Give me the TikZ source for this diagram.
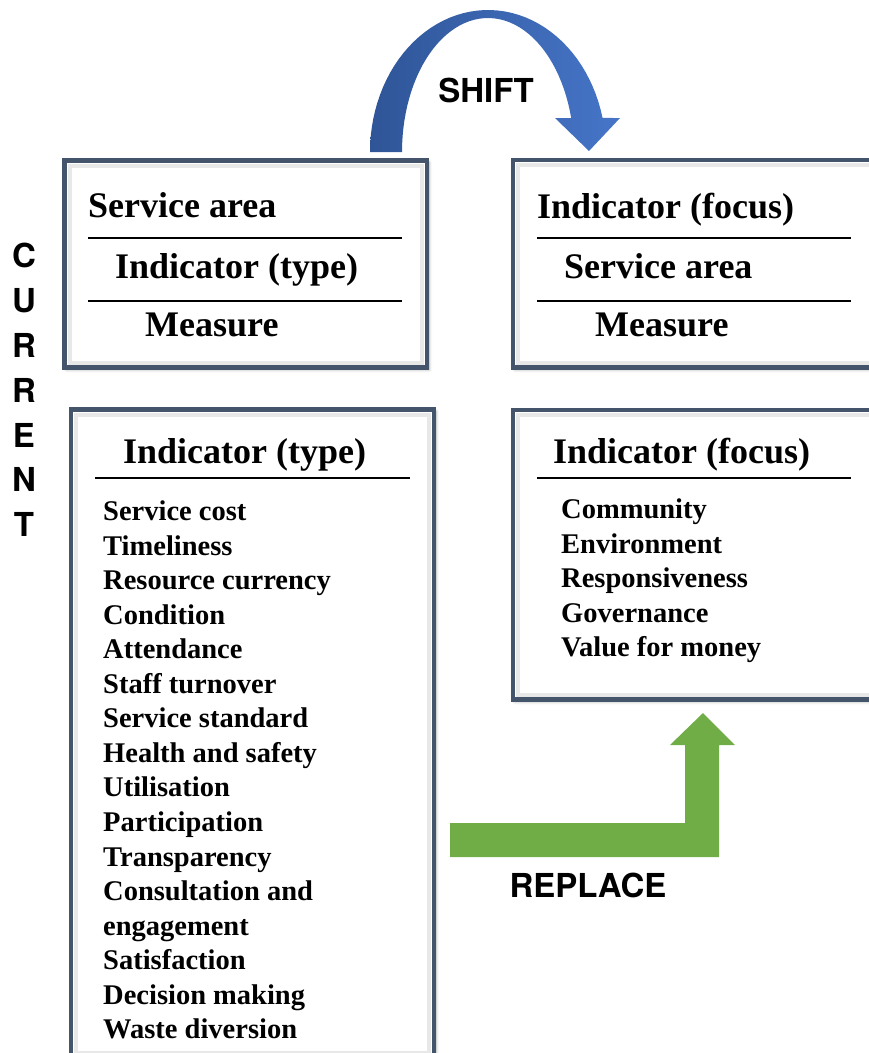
\documentclass[tikz,border=0pt]{standalone}
\usepackage{fontspec}
\setmainfont{Liberation Serif}
\setsansfont{TeX Gyre Heros}
\usetikzlibrary{shadows.blur}

\definecolor{frameblue}{RGB}{68,84,106}
\definecolor{shiftdark}{RGB}{47,85,151}
\definecolor{shiftlight}{RGB}{70,117,200}
\definecolor{replacegreen}{RGB}{112,173,71}

\begin{document}
\begin{tikzpicture}[x=1pt,y=-1pt,
	frame/.style={draw=frameblue,line width=4.5pt,fill=white,
		blur shadow={shadow xshift=2pt,shadow yshift=-2pt,shadow blur radius=3pt,shadow opacity=35}},
	glow/.style={draw=black!9,line width=4pt},
	rule/.style={line width=1.5pt},
	head/.style={inner sep=0pt,anchor=base west,font=\fontsize{36}{40}\selectfont\bfseries},
	entry/.style={inner sep=0pt,anchor=base west,font=\fontsize{28.5}{34.5}\selectfont\bfseries},
	caps/.style={inner sep=0pt,anchor=base,font=\fontsize{33}{36}\selectfont\sffamily\bfseries}]
	\useasboundingbox (0,0) rectangle (869,1053);
	\clip (0,0) rectangle (869,1053);

	% the four boxes
	\draw[frame] (64.5,160.5) rectangle (427,367.5);
	\draw[glow] (69.5,165.5) rectangle (422,362.5);
	\draw[frame] (513,160) rectangle (880,367.5);
	\draw[glow] (518,165) rectangle (875,362.5);
	\draw[frame] (71,409.5) rectangle (434,1058);
	\draw[glow] (76,414.5) rectangle (429,1053);
	\draw[frame] (513,410) rectangle (880,699.5);
	\draw[glow] (518,415) rectangle (875,694.5);

	% current ordering
	\node[head] (sa1) at (88,217) {Service area};
	\draw[rule] (88,238) -- (402,238);
	\node[head] (it1) at (115,278) {Indicator (type)};
	\draw[rule] (88,301) -- (402,301);
	\node[head] (me1) at (145,336.5) {Measure};

	% new ordering
	\node[head] (if2) at (537,218) {Indicator (focus)};
	\draw[rule] (537,238) -- (851,238);
	\node[head] (sa2) at (564,278) {Service area};
	\draw[rule] (537,301) -- (851,301);
	\node[head] (me2) at (595,336.5) {Measure};

	% indicator types
	\node[head] (typehead) at (123,463) {Indicator (type)};
	\draw[rule] (95,478) -- (410,478);
	\foreach \txt [count=\k] in {Service cost,Timeliness,Resource currency,Condition,
		Attendance,Staff turnover,Service standard,Health and safety,Utilisation,
		Participation,Transparency,Consultation and,engagement,Satisfaction,
		Decision making,Waste diversion}
		\node[entry] (type\k) at (103,486+34.55*\k) {\txt};

	% indicator focus
	\node[head] (focushead) at (553,463) {Indicator (focus)};
	\draw[rule] (537,478) -- (851,478);
	\foreach \txt [count=\k] in {Community,Environment,Responsiveness,Governance,Value for money}
		\node[entry] (focus\k) at (561,484+34.5*\k) {\txt};

	% side caption
	\foreach \ch [count=\k] in {C,U,R,R,E,N,T}
		\node[caps] (cur\k) at (24,223+44.8*\k) {\ch};

	% shift arrow
	\shade[left color=shiftdark,right color=shiftlight]
		plot[domain=180:13.86,samples=50] ({488+118*cos(\x)},{152-142*sin(\x)})
		-- (620,118) -- (589,151) -- (555,118)
		-- plot[domain=14.7:180,samples=50] ({488+86*cos(\x)},{152-134*sin(\x)}) -- cycle;
	\node[caps] (shift) at (486,102) {SHIFT};

	% replace arrow
	\fill[replacegreen] (450,823) -- (685,823) -- (685,745) -- (670,745) -- (703,713)
		-- (735,745) -- (719,745) -- (719,857) -- (450,857) -- cycle;
	\node[caps] (replace) at (588,897) {REPLACE};
\end{tikzpicture}
\end{document}
